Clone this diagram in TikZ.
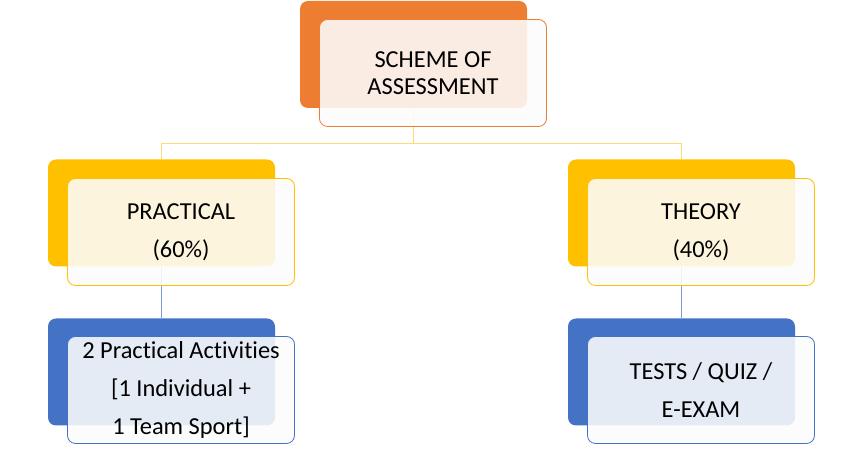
\documentclass[tikz,border=0pt]{standalone}
\usepackage{fontspec}
\setmainfont{Carlito}[RawFeature=-liga]
\usetikzlibrary{positioning}
\definecolor{SOAOrange}{RGB}{237,125,49}
\definecolor{SOAYellow}{RGB}{255,192,0}
\definecolor{SOABlue}{RGB}{68,114,196}
\begin{document}
\begin{tikzpicture}[
x=0.5pt,y=-0.5pt,
backbox/.style={rectangle,rounded corners=4pt,fill=#1,draw=none,
minimum width=113.5pt,minimum height=53.5pt,inner sep=0pt},
frontbox/.style={rectangle,rounded corners=4pt,draw=#1,line width=0.4pt,
fill=white!99!black,fill opacity=0.88,text opacity=1,
minimum width=113.5pt,minimum height=53.5pt,inner sep=0pt,align=center,
font=\fontsize{12.2}{19}\selectfont},
link/.style={draw=#1,line width=0.45pt}
]
\useasboundingbox (0,0) rectangle (847,458);
% back boxes
\node[backbox=SOAOrange] (schemeBack) at (413.5,54.5) {};
\node[backbox=SOAYellow] (practicalBack) at (161.5,213) {};
\node[backbox=SOAYellow] (theoryBack) at (681.5,213) {};
\node[backbox=SOABlue] (activitiesBack) at (161.5,372) {};
\node[backbox=SOABlue] (testsBack) at (681.5,372) {};
% connectors
\draw[link=SOAYellow!55!white] (schemeBack.south) -- ++(0,35) -| (practicalBack.north);
\draw[link=SOAYellow!55!white] (schemeBack.south) -- ++(0,35) -| (theoryBack.north);
\draw[link=SOABlue!70!white] (practicalBack.south) -- (activitiesBack.north);
\draw[link=SOABlue!70!white] (theoryBack.south) -- (testsBack.north);
% front boxes
\node[frontbox=SOAOrange,font=\fontsize{12.2}{13.5}\selectfont] (scheme) at (433,73) {SCHEME OF\\ASSESSMENT};
\node[frontbox=SOAYellow] (practical) at (181,232) {PRACTICAL\\(60\%)};
\node[frontbox=SOAYellow] (theory) at (701,232) {THEORY\\(40\%)};
\node[frontbox=SOABlue] (activities) at (181,390) {2 Practical Activities\\{}[1 Individual +\\1 Team Sport]};
\node[frontbox=SOABlue] (tests) at (701,390) {TESTS / QUIZ /\\E-EXAM};
\end{tikzpicture}
\end{document}
